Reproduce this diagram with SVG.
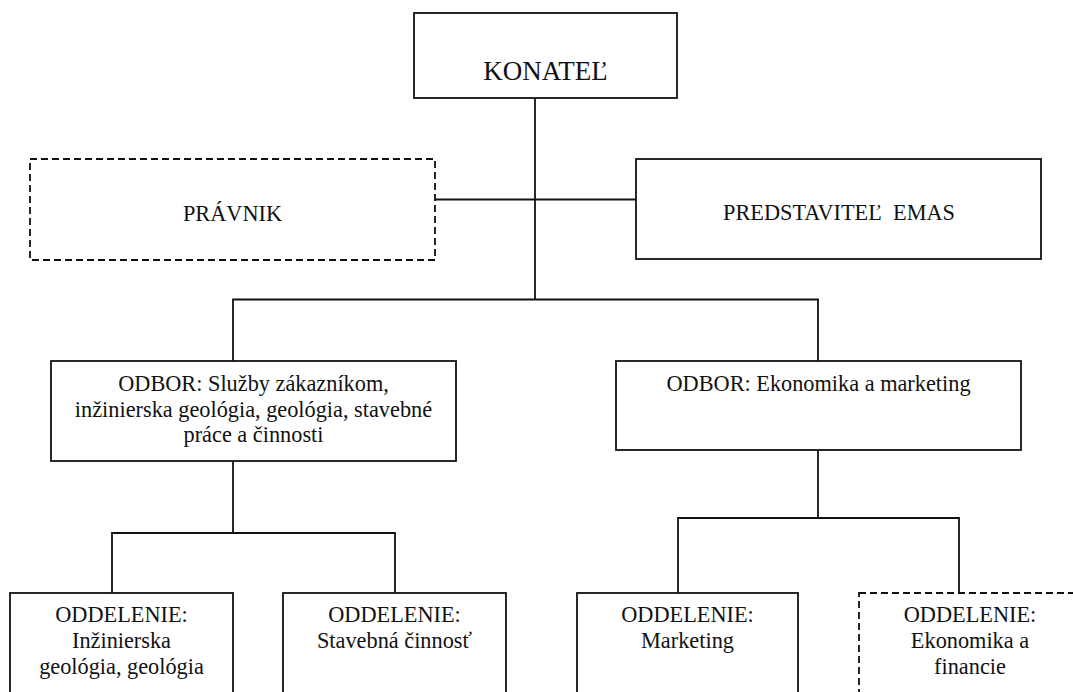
<svg xmlns="http://www.w3.org/2000/svg" width="1073" height="692" viewBox="0 0 1073 692">
<style>
.box{fill:#fff;stroke:#111;stroke-width:1.8}
.dash{fill:#fff;stroke:#111;stroke-width:1.8;stroke-dasharray:7 4}
.ln{fill:none;stroke:#111;stroke-width:1.8}
.t{font-family:'Liberation Serif',Tinos,'Times New Roman','DejaVu Serif',serif;font-size:22.3px;fill:#111;text-anchor:middle}
.big{font-size:27px}
</style>
<rect width="1073" height="692" fill="#fff"/>
<g id="connectors">
<path class="ln" d="M535 98V299.5"/>
<path class="ln" d="M435 199.5H636"/>
<path class="ln" d="M233 361V299.5H818V361"/>
<path class="ln" d="M233 461V533"/>
<path class="ln" d="M112 593V533H395V593"/>
<path class="ln" d="M818 450V518"/>
<path class="ln" d="M678 593V518H959V593"/>
</g>
<g id="konatel" class="t" font-family="Liberation Serif, serif">
<rect class="box" x="414" y="13" width="263" height="85"/>
<text class="big" x="545.5" y="80">KONATEĽ</text>
</g>
<g id="pravnik" class="t" font-family="Liberation Serif, serif">
<rect class="dash" x="30" y="159" width="405" height="101"/>
<text x="232.5" y="220.5">PRÁVNIK</text>
</g>
<g id="emas" class="t" font-family="Liberation Serif, serif">
<rect class="box" x="636" y="159" width="405" height="100"/>
<text x="839" y="220" xml:space="preserve">PREDSTAVITEĽ  EMAS</text>
</g>
<g id="odbor-sluzby" class="t" font-family="Liberation Serif, serif">
<rect class="box" x="51" y="361" width="405" height="100"/>
<text x="253.5" y="391">ODBOR: Služby zákazníkom,</text>
<text x="253.5" y="416.5">inžinierska geológia, geológia, stavebné</text>
<text x="253.5" y="442">práce a činnosti</text>
</g>
<g id="odbor-ekonomika" class="t" font-family="Liberation Serif, serif">
<rect class="box" x="616" y="361" width="405" height="89"/>
<text x="818.5" y="391">ODBOR: Ekonomika a marketing</text>
</g>
<g id="odd-geologia" class="t" font-family="Liberation Serif, serif">
<rect class="box" x="10" y="593" width="223" height="110"/>
<text x="121.5" y="622">ODDELENIE:</text>
<text x="121.5" y="648">Inžinierska</text>
<text x="121.5" y="674">geológia, geológia</text>
</g>
<g id="odd-stavebna" class="t" font-family="Liberation Serif, serif">
<rect class="box" x="283" y="593" width="223" height="110"/>
<text x="394.5" y="622">ODDELENIE:</text>
<text x="394.5" y="648">Stavebná činnosť</text>
</g>
<g id="odd-marketing" class="t" font-family="Liberation Serif, serif">
<rect class="box" x="577" y="593" width="221" height="110"/>
<text x="687.5" y="622">ODDELENIE:</text>
<text x="687.5" y="648">Marketing</text>
</g>
<g id="odd-ekonomika" class="t" font-family="Liberation Serif, serif">
<rect class="dash" x="859" y="593" width="222" height="110"/>
<text x="970" y="622">ODDELENIE:</text>
<text x="970" y="648">Ekonomika a</text>
<text x="970" y="674">financie</text>
</g>
</svg>
